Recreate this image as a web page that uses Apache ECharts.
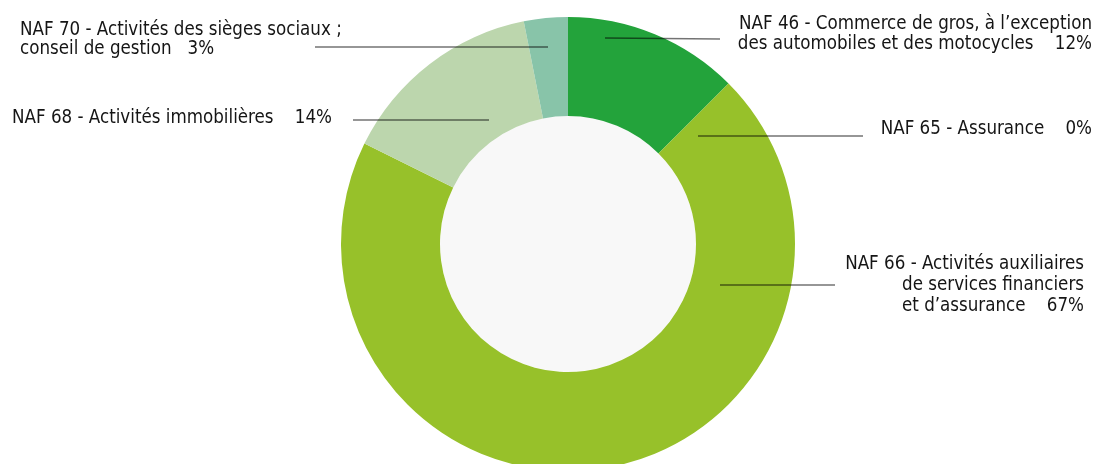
<!DOCTYPE html>
<html>
<head>
<meta charset="utf-8">
<script src="https://cdn.jsdelivr.net/npm/echarts@6/dist/echarts.min.js"></script>
<style>
  html, body { margin: 0; padding: 0; background: #ffffff; }
  #chart { width: 1096px; height: 464px; }
</style>
</head>
<body>
<div id="chart"></div>
<script>
// Sectors, clockwise from 12 o'clock
const sectors = [
  'NAF 46 - Commerce de gros, à l’exception\ndes automobiles et des motocycles',
  'NAF 65 - Assurance',
  'NAF 66 - Activités auxiliaires\nde services financiers\net d’assurance',
  'NAF 68 - Activités immobilières',
  'NAF 70 - Activités des sièges sociaux ;\nconseil de gestion'
];
// Share of each sector, in percent
const shares = [12, 0, 67, 14, 3];
const sectorColors = ['#23a33b', '#97c12a', '#97c12a', '#bcd6ad', '#88c4a9'];

// Label placement: anchor of the text block, spacing before the percentage,
// and the leader line ends
const labelSpots = [
  { x: 1092, y: 34,  align: 'right', lineHeight: 20, gap: 4, line: [[605, 38], [720, 39]] },
  { x: 1092, y: 129, align: 'right', lineHeight: 20, gap: 4, line: [[698, 136], [863, 136]] },
  { x: 1084, y: 285, align: 'right', lineHeight: 21, gap: 4, line: [[720, 285], [835, 285]] },
  { x: 12,   y: 118, align: 'left',  lineHeight: 20, gap: 4, line: [[353, 120], [489, 120]] },
  { x: 20,   y: 40,  align: 'left',  lineHeight: 19, gap: 3, line: [[315, 47], [548, 47]] }
];

const FONT = '"DejaVu Sans Condensed", "Liberation Sans Narrow", sans-serif';
const CENTER = [568, 244];
const RADIUS = [128, 227];

const chart = echarts.init(document.getElementById('chart'), null, { renderer: 'canvas' });

const common = {
  type: 'pie',
  center: CENTER,
  radius: RADIUS,
  startAngle: 90,
  clockwise: true,
  avoidLabelOverlap: false,
  stillShowZeroSum: true,
  minShowLabelAngle: 0,
  emphasis: { disabled: true }
};

chart.setOption({
  backgroundColor: '#ffffff',
  animation: false,
  series: [
    // light disc inside the ring
    {
      type: 'pie',
      silent: true,
      center: CENTER,
      radius: [0, RADIUS[0]],
      label: { show: false },
      labelLine: { show: false },
      itemStyle: { color: '#f8f8f8' },
      data: [{ value: 1, name: '' }],
      z: 1
    },
    // coloured ring
    Object.assign({}, common, {
      silent: true,
      itemStyle: { borderWidth: 0 },
      label: { show: false },
      labelLine: { show: false },
      data: sectors.map((name, i) => ({
        name: name,
        value: shares[i],
        itemStyle: { color: sectorColors[i] }
      })),
      z: 2
    }),
    // labels and leader lines, drawn over the ring
    Object.assign({}, common, {
      silent: true,
      itemStyle: { color: 'rgba(0,0,0,0)', borderWidth: 0 },
      label: {
        show: true,
        fontFamily: FONT,
        fontSize: 18.6,
        color: '#151515',
        formatter: p => p.name + ' '.repeat(labelSpots[p.dataIndex].gap) + p.value + '%'
      },
      labelLine: {
        show: true,
        lineStyle: { color: 'rgba(0,0,0,0.55)', width: 1.5 }
      },
      labelLayout: function (params) {
        const s = labelSpots[params.dataIndex];
        return {
          x: s.x,
          y: s.y,
          align: s.align,
          verticalAlign: 'middle',
          labelLinePoints: s.line
        };
      },
      data: sectors.map((name, i) => ({
        name: name,
        value: shares[i],
        label: { lineHeight: labelSpots[i].lineHeight }
      })),
      z: 3
    })
  ]
});
</script>
</body>
</html>
